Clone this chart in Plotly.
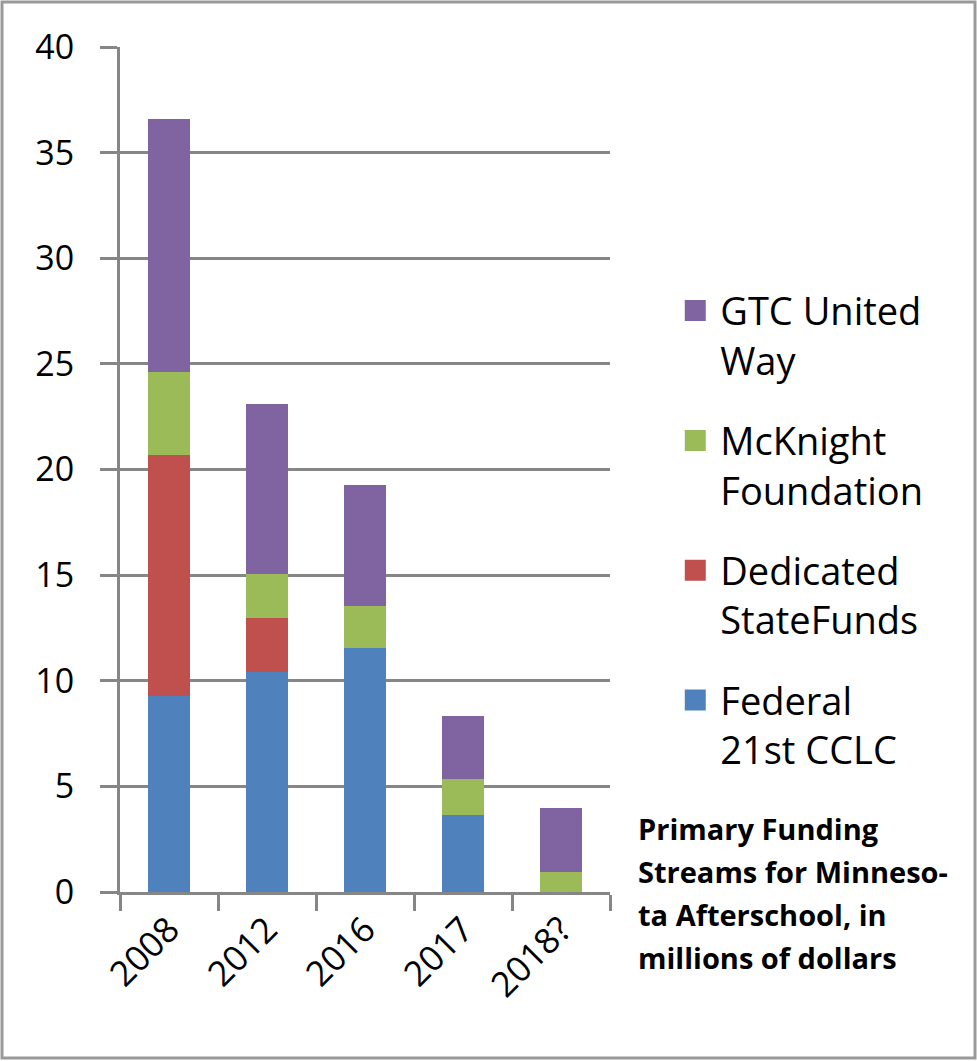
import plotly.graph_objects as go

years = ["2008", "2012", "2016", "2017", "2018?"]
federal = [9.3, 10.4, 11.55, 3.65, 0]
state_funds = [11.4, 2.55, 0, 0, 0]
mcknight = [3.9, 2.1, 2.0, 1.7, 0.95]
gtc = [12.0, 8.05, 5.7, 3.0, 3.05]

series = [
    ("Federal<br>21st CCLC", federal, "#4F81BD"),
    ("Dedicated<br>StateFunds", state_funds, "#C0504D"),
    ("McKnight<br>Foundation", mcknight, "#9BBB59"),
    ("GTC United<br>Way", gtc, "#8064A2"),
]
title_lines = ["Primary Funding", "Streams for Minneso-", "ta Afterschool, in", "millions of dollars"]

W, H = 977, 1061
L, R, T, B = 120, 367, 47, 169
pw, ph = W - L - R, H - T - B

fig = go.Figure()
for name, vals, color in series:
    fig.add_trace(go.Bar(x=years, y=vals, name=name, marker=dict(color=color, line=dict(width=0)),
                         showlegend=False))
# legend entries (top to bottom as in the reference)
for i, (name, vals, color) in enumerate(reversed(series)):
    fig.add_trace(go.Scatter(x=[None], y=[None], mode="markers", name=name, legendgroup=f"g{i}",
                             marker=dict(symbol="square", size=16, color=color,
                                         line=dict(width=5, color=color))))

grey = "#868686"
font = "'Open Sans', Lato, sans-serif"
fig.update_layout(
    width=W, height=H, margin=dict(l=L, r=R, t=T, b=B, autoexpand=False),
    barmode="stack", bargap=0.58,
    paper_bgcolor="white", plot_bgcolor="white",
    font=dict(family=font, color="#000000", size=34),
    showlegend=True,
    legend=dict(x=1.123, y=0.725, xanchor="left", yanchor="top", traceorder="grouped",
                tracegroupgap=28, valign="top", font=dict(size=38, family=font),
                bgcolor="rgba(0,0,0,0)", itemwidth=40),
    xaxis=dict(type="category", showline=True, linecolor=grey, linewidth=3,
               ticks="outside", tickson="boundaries", ticklen=16, tickwidth=3, tickcolor=grey,
               tickangle=-45, tickfont=dict(size=35), showgrid=False),
    yaxis=dict(range=[0, 40], dtick=5, showline=True, linecolor=grey, linewidth=3,
               showgrid=True, gridcolor=grey, gridwidth=3,
               ticks="outside", ticklen=17, tickwidth=3, tickcolor=grey,
               ticklabelstandoff=19, tickfont=dict(size=34), zeroline=False),
)

for k, line in enumerate(title_lines):
    cy = 828 + 43 * k
    fig.add_annotation(text=f"<b>{line}</b>", xref="paper", yref="paper",
                       x=(636 - L) / pw, y=(H - B - cy) / ph, xanchor="left", yanchor="middle",
                       showarrow=False, font=dict(size=29, family=font, color="#000000"))

fig.add_shape(type="rect", xref="paper", yref="paper",
              x0=(2 - L) / pw, x1=(975 - L) / pw, y0=(H - B - 1058) / ph, y1=(H - B - 2) / ph,
              line=dict(color="#999999", width=3), fillcolor="rgba(0,0,0,0)")

fig.write_html("out.html", config={"displayModeBar": False},
               post_script="document.body.style.margin='0px';")
